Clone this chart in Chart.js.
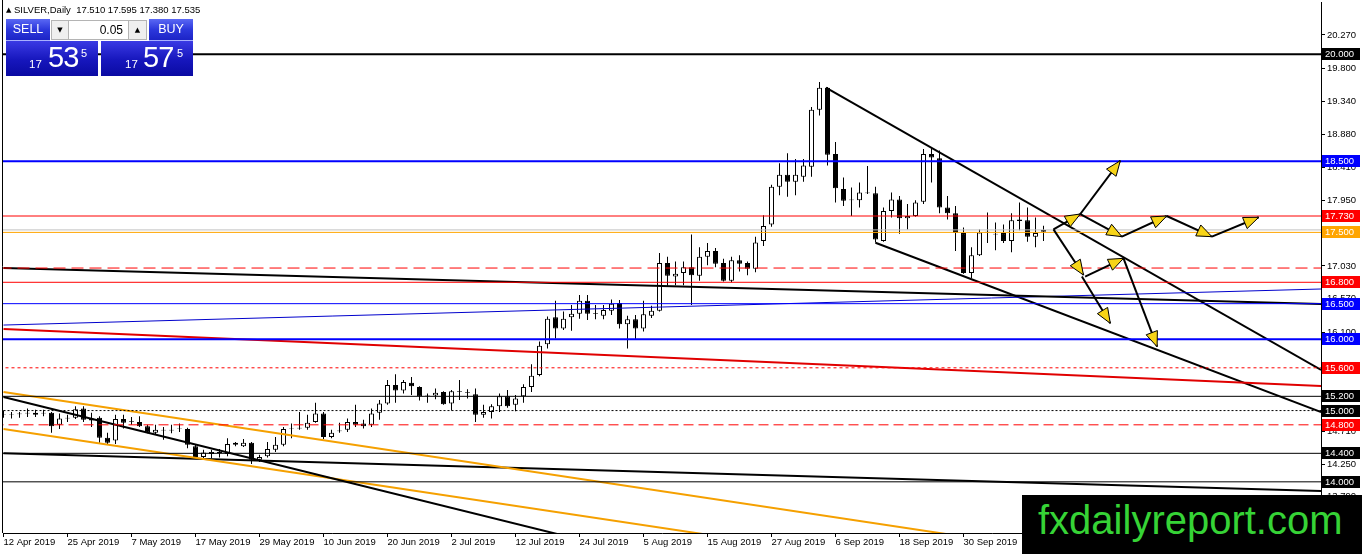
<!DOCTYPE html>
<html>
<head>
<meta charset="utf-8">
<script src="https://cdn.jsdelivr.net/npm/chart.js@4.4.1/dist/chart.umd.min.js"></script>
<style>
  html, body { margin:0; padding:0; background:#fff; }
  #wrap { position:relative; width:1362px; height:554px; overflow:hidden; font-family:'Liberation Sans', Arial, sans-serif; }
  #c { position:absolute; left:0; top:0; }
  .hdr { position:absolute; top:4px; left:6px; font-size:9.5px; line-height:12px; color:#000; white-space:pre; }
  .tri { font-size:7px; position:relative; top:-1px; font-family:'DejaVu Sans', sans-serif; }
  .btn { position:absolute; top:19px; height:22px; width:44px; color:#fff; font-size:12.5px; line-height:21px; text-align:center;
         background:linear-gradient(#5a68f4, #2c38dc 50%, #1c24c6); box-sizing:border-box; border-bottom:1px solid #a8b0ff; }
  .spin { position:absolute; top:20px; height:20px; background:#efefef; border:1px solid #b4b4b4; box-sizing:border-box; font-size:7px; line-height:18px; text-align:center; color:#000; font-family:'DejaVu Sans', sans-serif; }
  .inp { position:absolute; top:20px; left:68px; width:61px; height:20px; background:#fff; border:1px solid #b4b4b4; box-sizing:border-box; font-size:12px; line-height:18px; text-align:right; padding-right:5px; color:#000; }
  .px { position:absolute; top:41px; width:92px; height:35px; background:linear-gradient(#3a3ae4, #1616bc 55%, #0a0aa2); color:#fff; }
  .px span { position:absolute; white-space:nowrap; }
  .px .s { font-size:11.5px; line-height:11.5px; top:18px; }
  .px .b { font-size:29px; line-height:29px; top:2px; letter-spacing:-1px; }
  .px .e { font-size:11px; line-height:11px; top:7px; }
  .wm { position:absolute; left:1022px; top:495px; width:340px; height:59px; background:#000; color:#36d336; font-size:40px; line-height:50px; padding-left:16px; box-sizing:border-box; white-space:nowrap; }
</style>
</head>
<body>
<div id="wrap">
  <canvas id="c" width="1362" height="554"></canvas>
  <div class="hdr"><span class="tri">▲</span> SILVER,Daily  17.510 17.595 17.380 17.535</div>
  <div class="btn" style="left:6px">SELL</div>
  <div class="spin" style="left:51px;width:18px">▼</div>
  <div class="inp">0.05</div>
  <div class="spin" style="left:128px;width:19px">▲</div>
  <div class="btn" style="left:149px">BUY</div>
  <div class="px" style="left:6px"><span class="s" style="left:23px">17</span><span class="b" style="left:42px">53</span><span class="e" style="left:75px">5</span></div>
  <div class="px" style="left:101px"><span class="s" style="left:24px">17</span><span class="b" style="left:42px">57</span><span class="e" style="left:76px">5</span></div>
  <div class="wm">fxdailyreport.com</div>
</div>
<script>
// ---- data ----
const dateLabels = ['12 Apr 2019','25 Apr 2019','7 May 2019','17 May 2019','29 May 2019','10 Jun 2019','20 Jun 2019','2 Jul 2019','12 Jul 2019','24 Jul 2019','5 Aug 2019','15 Aug 2019','27 Aug 2019','6 Sep 2019','18 Sep 2019','30 Sep 2019'];
const barsPerLabel = 8;

const opens = [14.95,14.94,14.95,14.96,14.94,14.96,14.97,14.80,14.89,14.90,
15.03,14.89,14.90,14.62,14.58,14.88,14.84,14.84,14.78,14.69,
14.72,14.72,14.74,14.74,14.50,14.35,14.39,14.42,14.39,14.55,
14.50,14.55,14.31,14.36,14.45,14.52,14.74,14.75,14.76,14.84,
14.96,14.63,14.71,14.73,14.84,14.82,14.80,14.97,15.10,15.36,
15.28,15.39,15.33,15.21,15.21,15.26,15.10,15.27,15.26,15.23,
14.94,14.98,15.06,15.20,15.08,15.20,15.33,15.50,15.93,16.31,
16.15,16.31,16.36,16.54,16.36,16.33,16.40,16.51,16.21,16.28,
16.15,16.33,16.40,17.07,16.88,16.93,17.01,16.89,17.16,17.24,
17.07,16.82,17.11,17.07,16.99,17.38,17.61,18.14,18.31,18.21,
18.28,18.42,19.22,19.53,18.60,18.11,17.95,17.95,18.06,18.05,
17.38,17.80,17.96,17.70,17.73,17.93,18.60,18.54,17.85,17.77,
17.49,16.93,17.18,17.51,17.48,17.49,17.38,17.68,17.67,17.44,
17.51];
const highs = [15.00,14.98,14.98,15.03,15.01,15.01,14.98,14.96,14.94,15.06,
15.06,14.97,14.92,14.69,14.94,14.94,14.91,14.92,14.80,14.80,
14.77,14.80,14.82,14.76,14.52,14.45,14.45,14.46,14.61,14.56,
14.60,14.56,14.38,14.56,14.63,14.77,14.82,14.98,14.94,15.11,
14.98,14.73,14.83,14.89,15.08,14.87,15.03,15.15,15.43,15.51,
15.43,15.47,15.34,15.24,15.31,15.27,15.29,15.43,15.30,15.31,
15.08,15.09,15.24,15.29,15.22,15.37,15.65,15.97,16.32,16.54,
16.39,16.48,16.62,16.62,16.48,16.48,16.56,16.55,16.33,16.34,
16.54,16.47,17.21,17.16,17.09,17.09,17.47,17.29,17.35,17.28,
17.13,17.16,17.18,17.09,17.44,17.74,18.17,18.47,18.61,18.53,
18.53,19.26,19.61,19.54,18.77,18.27,18.13,18.20,18.43,18.14,
17.85,18.06,18.01,17.90,17.95,18.67,18.68,18.65,18.01,17.87,
17.57,17.29,17.54,17.78,17.64,17.61,17.77,17.92,17.85,17.71,
17.595];
const lows = [14.90,14.89,14.90,14.91,14.91,14.92,14.69,14.74,14.84,14.88,
14.84,14.77,14.55,14.53,14.53,14.75,14.80,14.77,14.68,14.66,
14.59,14.68,14.70,14.47,14.34,14.33,14.33,14.34,14.36,14.50,
14.49,14.25,14.28,14.34,14.42,14.50,14.61,14.73,14.73,14.83,
14.60,14.61,14.69,14.70,14.77,14.75,14.77,14.87,15.08,15.11,
15.24,15.22,15.14,15.11,15.16,15.08,15.00,15.15,15.17,14.84,
14.90,14.89,14.98,15.04,14.99,15.11,15.26,15.48,15.87,16.01,
16.13,16.12,16.29,16.27,16.28,16.28,16.34,16.15,15.87,15.99,
16.11,16.30,16.39,16.75,16.76,16.76,16.48,16.82,17.04,17.01,
16.81,16.80,16.95,16.90,16.94,17.31,17.58,18.02,18.00,18.02,
18.21,18.28,19.14,18.44,17.92,17.87,17.73,17.85,18.04,17.36,
17.37,17.71,17.48,17.54,17.72,17.90,18.20,17.77,17.68,17.24,
16.92,16.86,17.17,17.35,17.25,17.35,17.22,17.53,17.37,17.29,
17.38];
const closes = [14.94,14.95,14.96,14.97,14.97,14.97,14.78,14.89,14.90,15.02,
14.87,14.86,14.62,14.55,14.88,14.83,14.85,14.78,14.69,14.73,
14.73,14.73,14.75,14.52,14.35,14.41,14.42,14.40,14.53,14.52,
14.55,14.31,14.35,14.46,14.52,14.74,14.75,14.76,14.83,14.96,
14.63,14.69,14.72,14.84,14.80,14.78,14.96,15.10,15.36,15.28,
15.40,15.34,15.20,15.22,15.25,15.09,15.27,15.26,15.25,14.94,
14.98,15.06,15.20,15.06,15.17,15.33,15.49,15.91,16.29,16.15,
16.29,16.36,16.54,16.36,16.37,16.41,16.50,16.21,16.28,16.15,
16.35,16.40,17.07,16.89,16.92,17.01,16.90,17.16,17.24,17.06,
16.82,17.11,17.06,16.99,17.36,17.59,18.14,18.31,18.21,18.31,
18.44,19.22,19.53,18.59,18.12,17.945,17.96,18.06,18.05,17.40,
17.80,17.96,17.70,17.73,17.92,18.60,18.55,17.85,17.77,17.49,
16.93,17.18,17.50,17.50,17.47,17.38,17.67,17.66,17.44,17.49,
17.535];

const yTickValues = [20.27,19.80,19.34,18.88,18.41,17.95,17.49,17.03,16.57,16.10,15.64,15.17,14.71,14.25,13.79];

// labelled horizontal levels
const levelPrices = [20.0,18.5,17.73,17.5,16.8,16.5,16.0,15.6,15.2,15.0,14.8,14.4,14.0];
// unlabelled horizontal levels (dashed 17.00, bid line)
const extraLevelPrices = [17.0, 17.535];
// trend lines: [barFrom, priceFrom, barTo, priceTo]
const trendPoints = [
  [0,17.00,164.7,16.495],
  [0,16.145,164.7,15.345],
  [0,16.20,164.7,16.706],
  [0,15.19,70,13.246],
  [0,15.26,120,13.231],
  [0,14.74,90,13.224],
  [0,14.40,164.7,13.871],
  [102.8,19.53,164.7,15.57],
  [109,17.355,164.7,14.98]
];
// forecast arrows: [barFrom, priceFrom, barTo, priceTo]
const arrowSegments = [
  [131.25,17.543,134.6,17.758],
  [134.6,17.758,139.6,18.506],
  [134.6,17.758,139.8,17.440],
  [139.8,17.440,145.4,17.730],
  [145.4,17.730,151.05,17.440],
  [151.05,17.440,156.9,17.712],
  [131.25,17.543,135.0,16.902],
  [135.2,16.88,140.0,17.136],
  [134.8,16.88,138.35,16.224],
  [140.0,17.136,144.2,15.896]
];

// ---- styles ----
const levelColors = ['#000000','#0000ff','#ff0000','#ffa500','#ff0000','#0000ff','#0000ff','#ff0000','#000000','#000000','#ff0000','#000000','#000000'];
const levelWidths = [2,2,1,1,1,1,2,1,1,1,1,1,1];
const levelDashes = [[],[],[],[],[],[],[],[3,3],[],[2,2],[10,5],[],[]];
const extraColors = ['#ff0000','#c0c0c0'];
const extraDashes = [[12,6],[]];
const trendColors = ['#000000','#e00000','#0000cc','#000000','#f5a000','#f5a000','#000000','#000000','#000000'];
const trendWidths = [2,2,1,2,2,2,2,2,2];

const FONT = {family:"'Liberation Sans', Arial, sans-serif", size:9.5};

const datasets = [];
levelPrices.forEach((p,i)=>{
  datasets.push({type:'line', data:[{x:-5,y:p},{x:200,y:p}], borderColor:levelColors[i], borderWidth:levelWidths[i], borderDash:levelDashes[i], pointRadius:0, order:0});
});
extraLevelPrices.forEach((p,i)=>{
  datasets.push({type:'line', data:[{x:-5,y:p},{x:200,y:p}], borderColor:extraColors[i], borderWidth:1, borderDash:extraDashes[i], pointRadius:0, order:0});
});
trendPoints.forEach((t,i)=>{
  datasets.push({type:'line', data:[{x:t[0],y:t[1]},{x:t[2],y:t[3]}], borderColor:trendColors[i], borderWidth:trendWidths[i], pointRadius:0, order:0});
});
datasets.push({type:'bar', data:opens.map((o,i)=>({x:i, y:[Math.min(o,closes[i]), Math.max(o,closes[i])]})),
  backgroundColor:opens.map((o,i)=> closes[i] >= o ? '#ffffff' : '#000000'),
  borderColor:'#000000', borderWidth:1, borderSkipped:false, barThickness:5, grouped:false, inflateAmount:0, order:1});
datasets.push({type:'bar', data:lows.map((l,i)=>({x:i, y:[l, highs[i]]})),
  backgroundColor:'#000000', borderWidth:0, barThickness:1, grouped:false, inflateAmount:0, order:2});

const overlay = {
  id:'overlay',
  afterDatasetsDraw(chart){
    const {ctx, scales:{x,y}} = chart;
    ctx.save();
    arrowSegments.forEach(s=>{
      const x1=x.getPixelForValue(s[0]), y1=y.getPixelForValue(s[1]);
      const x2=x.getPixelForValue(s[2]), y2=y.getPixelForValue(s[3]);
      ctx.strokeStyle='#000'; ctx.lineWidth=2;
      ctx.beginPath(); ctx.moveTo(x1,y1); ctx.lineTo(x2,y2); ctx.stroke();
      const a=Math.atan2(y2-y1,x2-x1), L=15, W=6;
      const bx=x2-L*Math.cos(a), by=y2-L*Math.sin(a);
      ctx.beginPath();
      ctx.moveTo(x2,y2);
      ctx.lineTo(bx+W*Math.sin(a), by-W*Math.cos(a));
      ctx.lineTo(bx-W*Math.sin(a), by+W*Math.cos(a));
      ctx.closePath();
      ctx.fillStyle='#f7d417'; ctx.fill();
      ctx.lineWidth=1; ctx.strokeStyle='#000'; ctx.stroke();
    });
    ctx.restore();
  },
  afterDraw(chart){
    const {ctx, chartArea, scales:{y}} = chart;
    ctx.save();
    ctx.strokeStyle='#000'; ctx.lineWidth=1;
    ctx.beginPath(); ctx.moveTo(chartArea.left-0.5, 0); ctx.lineTo(chartArea.left-0.5, chartArea.bottom); ctx.stroke();
    ctx.font = FONT.size+'px '+FONT.family;
    ctx.textBaseline='middle'; ctx.textAlign='left';
    levelPrices.forEach((p,i)=>{
      const py = Math.round(y.getPixelForValue(p));
      ctx.fillStyle = levelColors[i];
      ctx.fillRect(chartArea.right+1, py-6, 38, 12);
      ctx.fillStyle = '#ffffff';
      ctx.fillText(p.toFixed(3), chartArea.right+4, py+0.5);
    });
    ctx.restore();
  }
};

new Chart(document.getElementById('c'), {
  type:'bar',
  data:{datasets},
  options:{
    responsive:false, animation:false, devicePixelRatio:1,
    layout:{padding:{left:3, top:2, right:0, bottom:0}},
    plugins:{legend:{display:false}, tooltip:{enabled:false}},
    scales:{
      x:{type:'linear', position:'bottom', min:-0.0625, max:164.6875, offset:false,
        afterBuildTicks:(s)=>{ s.ticks = dateLabels.map((d,i)=>({value:i*barsPerLabel})); },
        ticks:{callback:(v)=>dateLabels[Math.round(v/barsPerLabel)], align:'start', maxRotation:0, autoSkip:false, font:FONT, color:'#000', padding:0},
        grid:{drawOnChartArea:false, drawTicks:true, tickLength:4, color:'#000', offset:false},
        border:{display:true, color:'#000'},
        afterFit:(s)=>{ s.height = 21; s.paddingLeft = 0; s.paddingRight = 0; }
      },
      y:{type:'linear', position:'right', min:13.282, max:20.733,
        afterBuildTicks:(s)=>{ s.ticks = yTickValues.map(v=>({value:v})); },
        ticks:{callback:(v)=>Number(v).toFixed(3), font:FONT, color:'#000', padding:2, autoSkip:false},
        grid:{drawOnChartArea:false, drawTicks:true, tickLength:4, color:'#000'},
        border:{display:true, color:'#000'},
        afterFit:(s)=>{ s.width = 41; s.paddingTop = 0; s.paddingBottom = 0; }
      }
    }
  },
  plugins:[overlay]
});
</script>
</body>
</html>
